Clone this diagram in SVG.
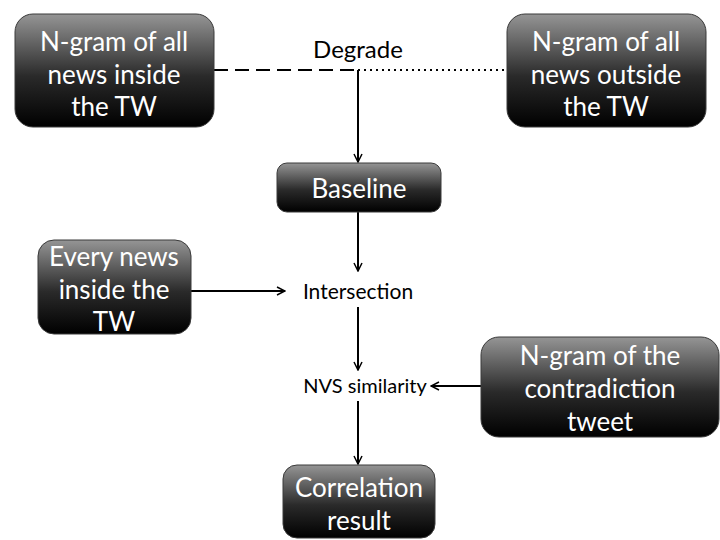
<svg xmlns="http://www.w3.org/2000/svg" width="720" height="540" viewBox="0 0 720 540">
<defs>
<linearGradient id="g" x1="0" y1="0" x2="0" y2="1">
<stop offset="0" stop-color="#959595"/>
<stop offset="0.55" stop-color="#2a2a2a"/>
<stop offset="1" stop-color="#000"/>
</linearGradient>
<marker id="arr" viewBox="0 0 10 10" refX="9" refY="5" markerWidth="10" markerHeight="10" markerUnits="userSpaceOnUse" orient="auto">
<path d="M1,1 L9,5 L1,9" fill="none" stroke="#000" stroke-width="1.5"/>
</marker>
</defs>
<style>
.box{fill:url(#g);stroke:#3a3a3a;stroke-width:1}
.bt{fill:#fff;font-family:Lato,"Open Sans",sans-serif;font-size:26px;text-anchor:middle}
.lt{fill:#000;font-family:Lato,"Open Sans",sans-serif;text-anchor:middle}
.ln{stroke:#000;stroke-width:2;fill:none}
</style>
<rect width="720" height="540" fill="#fff"/>
<g id="connectors">
<line class="ln" x1="214" y1="70" x2="358" y2="70" stroke-dasharray="14,7"/>
<line class="ln" x1="358" y1="70" x2="507" y2="70" stroke-dasharray="2,4"/>
<line class="ln" x1="358" y1="70" x2="358" y2="162" marker-end="url(#arr)"/>
<line class="ln" x1="358" y1="212" x2="358" y2="271" marker-end="url(#arr)"/>
<line class="ln" x1="191" y1="291" x2="285" y2="291" marker-end="url(#arr)"/>
<line class="ln" x1="358" y1="307" x2="358" y2="370" marker-end="url(#arr)"/>
<line class="ln" x1="481" y1="386" x2="431" y2="386" marker-end="url(#arr)"/>
<line class="ln" x1="358" y1="401" x2="358" y2="464" marker-end="url(#arr)"/>
</g>
<g id="degrade"><text class="lt" x="358" y="58" font-size="24">Degrade</text></g>
<g id="n1">
<rect class="box" x="15" y="14" width="199" height="113" rx="18"/>
<text class="bt" x="114" y="51">N-gram of all</text>
<text class="bt" x="114" y="84">news inside</text>
<text class="bt" x="114" y="116">the TW</text>
</g>
<g id="n2">
<rect class="box" x="507" y="14" width="199" height="113" rx="18"/>
<text class="bt" x="606" y="51">N-gram of all</text>
<text class="bt" x="606" y="84">news outside</text>
<text class="bt" x="606" y="116">the TW</text>
</g>
<g id="baseline">
<rect class="box" x="277" y="163" width="164" height="49" rx="10"/>
<text class="bt" x="359" y="198" font-size="24">Baseline</text>
</g>
<g id="intersection"><text class="lt" x="358" y="299" font-size="21">Intersection</text></g>
<g id="nvs"><text class="lt" x="365" y="393" font-size="20">NVS similarity</text></g>
<g id="n3">
<rect class="box" x="38" y="240" width="153" height="94" rx="16"/>
<text class="bt" x="114" y="266">Every news</text>
<text class="bt" x="114" y="299">inside the</text>
<text class="bt" x="114" y="331">TW</text>
</g>
<g id="n4">
<rect class="box" x="481" y="337" width="238" height="100" rx="18"/>
<text class="bt" x="600" y="365">N-gram of the</text>
<text class="bt" x="600" y="398">contradiction</text>
<text class="bt" x="600" y="431">tweet</text>
</g>
<g id="n5">
<rect class="box" x="283" y="465" width="152" height="73" rx="14"/>
<text class="bt" x="359" y="497">Correlation</text>
<text class="bt" x="359" y="530">result</text>
</g>
</svg>
